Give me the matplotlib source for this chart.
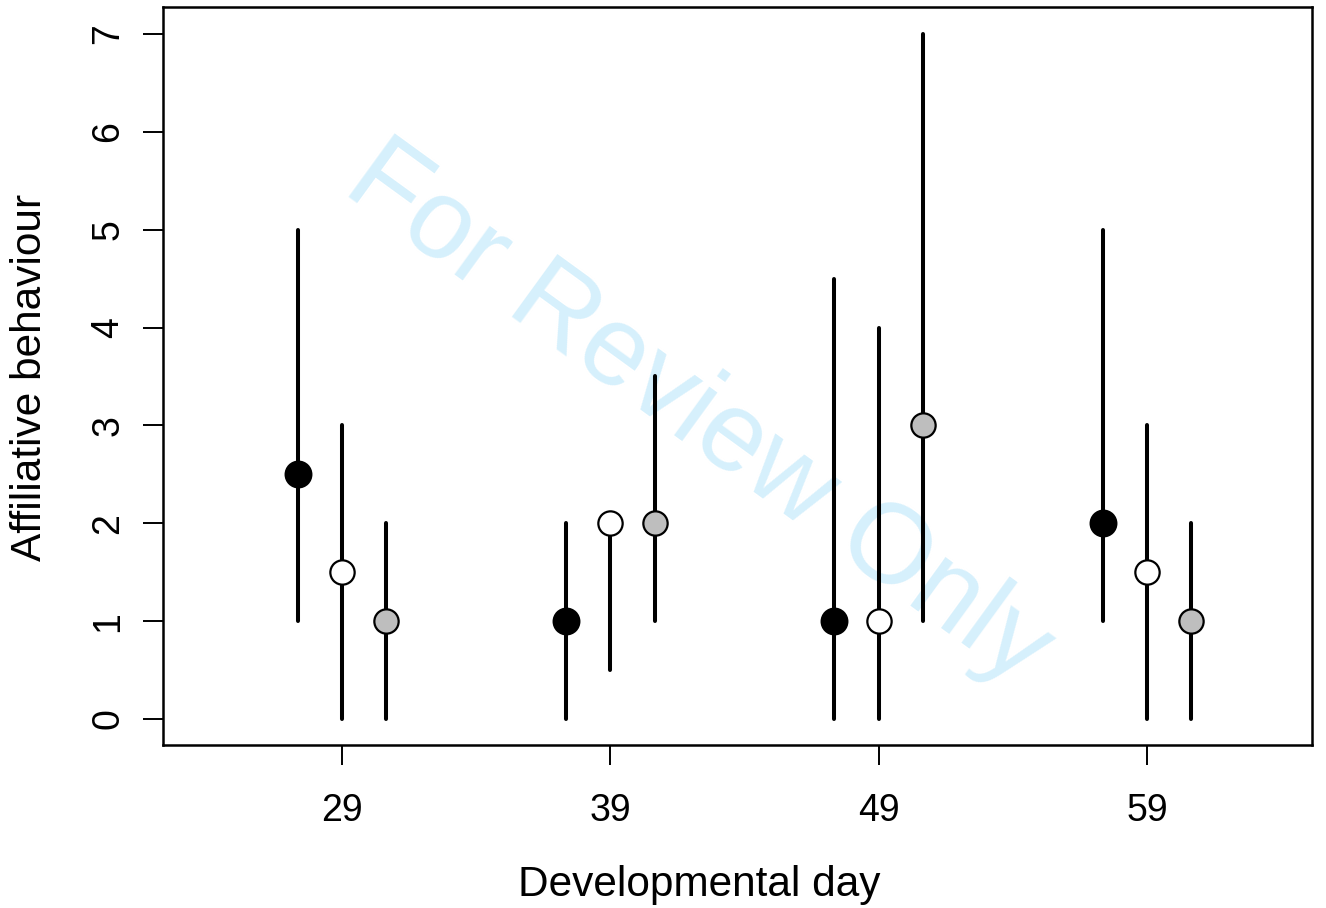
import matplotlib
matplotlib.use("Agg")
import matplotlib.pyplot as plt
import numpy as np

plt.rcParams['font.family'] = ['Liberation Sans', 'DejaVu Sans']

days = [29, 39, 49, 59]
tick_labels = ["29", "39", "49", "59"]

# group 1 (black)
black_median = [2.5, 1.0, 1.0, 2.0]
black_low = [1.0, 0.0, 0.0, 1.0]
black_high = [5.0, 2.0, 4.5, 5.0]

# group 2 (white)
white_median = [1.5, 2.0, 1.0, 1.5]
white_low = [0.0, 0.5, 0.0, 0.0]
white_high = [3.0, 2.0, 4.0, 3.0]

# group 3 (grey)
grey_median = [1.0, 2.0, 3.0, 1.0]
grey_low = [0.0, 1.0, 1.0, 0.0]
grey_high = [2.0, 3.5, 7.0, 2.0]

W, H = 1326, 908
fig = plt.figure(figsize=(W / 100, H / 100), dpi=100)
ax = fig.add_axes([163 / W, 1 - 745 / H, (1312 - 163) / W, (745 - 7) / H])

dodge = 1.65
groups = [
    (-dodge, black_median, black_low, black_high, 'black', 18.5),
    (0.0, white_median, white_low, white_high, 'white', 17.5),
    (dodge, grey_median, grey_low, grey_high, '#bebebe', 17.5),
]
for off, med, lo, hi, col, ms in groups:
    x = np.array(days) + off
    ax.vlines(x, lo, hi, colors='black', linewidth=2.9, zorder=2, capstyle='round')
    ax.plot(x, med, linestyle='none', marker='o', markersize=ms,
            markerfacecolor=col, markeredgecolor='black', markeredgewidth=1.6, zorder=3)

ax.set_xlim(22.33, 65.15)
ax.set_ylim(-0.266, 7.276)
ax.set_xticks(days)
ax.set_xticklabels(tick_labels)
ax.set_yticks(range(0, 8))
ax.set_yticklabels([str(i) for i in range(0, 8)], rotation=90, va='center')

ax.tick_params(axis='both', length=14.5, width=1.4, labelsize=27, color='black')
ax.tick_params(axis='x', pad=20)
ax.tick_params(axis='y', pad=12)
for s in ax.spines.values():
    s.set_linewidth(1.8)

ax.set_xlabel("Developmental day", fontsize=30.5)
ax.set_ylabel("Affiliative behaviour", fontsize=30.5)
ax.xaxis.set_label_coords((699 - 163) / (1312 - 163), -(885 - 745) / (745 - 7))
ax.xaxis.label.set_va('center')
ax.yaxis.set_label_coords(-(163 - 30) / (1312 - 163), (745 - 377) / (745 - 7))
ax.yaxis.label.set_va('center')

ax.text(698 / W, 1 - 416 / H, "For Review Only", fontsize=82, color='#d6f0fc',
        rotation=-36, ha='center', va='center', rotation_mode='anchor',
        transform=fig.transFigure, zorder=1, clip_on=False)

fig.savefig("out.png", dpi=100)
